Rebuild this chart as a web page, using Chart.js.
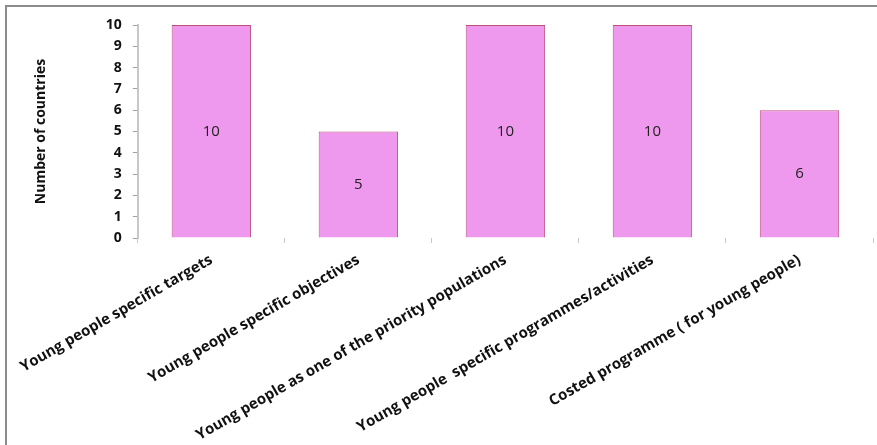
<!DOCTYPE html>
<html>
<head>
<meta charset="utf-8">
<script src="https://cdn.jsdelivr.net/npm/chart.js@4"></script>
<style>
  html, body { margin: 0; padding: 0; background: #fff; }
  #wrap { position: relative; width: 877px; height: 445px; }
  #frame { position: absolute; left: 5px; top: 5px; right: 0; bottom: 0;
           border-top: 2px solid #8c8c8c; border-left: 2px solid #8c8c8c; }
  #chart-box { position: absolute; left: 0; top: 0; width: 877px; height: 445px; }
</style>
</head>
<body>
<div id="wrap">
  <div id="frame"></div>
  <div id="chart-box"><canvas id="bar-chart"></canvas></div>
</div>
<script>
const categories = [
  'Young people specific targets',
  'Young people specific objectives',
  'Young people as one of the priority populations',
  'Young people  specific programmes/activities',
  'Costed programme ( for young people)'
]
const countryCounts = [10, 5, 10, 10, 6]
const yTicks = [0, 1, 2, 3, 4, 5, 6, 7, 8, 9, 10]

// writes each bar's value in the middle of the bar
const valueLabels = {
  id: 'valueLabels',
  afterDatasetsDraw(chart) {
    const ctx = chart.ctx
    const meta = chart.getDatasetMeta(0)
    ctx.save()
    ctx.font = '15px "Open Sans"'
    ctx.fillStyle = '#222'
    ctx.textAlign = 'center'
    ctx.textBaseline = 'middle'
    meta.data.forEach(function(bar, i) {
      ctx.fillText(String(countryCounts[i]), bar.x, (bar.y + bar.base) / 2)
    })
    ctx.restore()
  }
}

var ctx = document.getElementById('bar-chart').getContext('2d')
var myChart = new Chart(ctx, {
  type: 'bar',
  data: {
    labels: categories,
    datasets: [{
      data: countryCounts,
      backgroundColor: '#ee99ee',
      borderColor: '#c0507a',
      borderWidth: 1,
      barPercentage: 0.9,
      categoryPercentage: 0.6
    }]
  },
  options: {
    responsive: true,
    maintainAspectRatio: false,
    animation: false,
    layout: { padding: { left: 20, top: 25, right: 4, bottom: 0 } },
    plugins: {
      legend: { display: false },
      tooltip: { enabled: false }
    },
    scales: {
      x: {
        afterFit(scale) { scale.height = 207 },
        grid: { display: true, drawOnChartArea: false, drawTicks: true, tickLength: 5, color: '#c8c8c8', offset: true },
        border: { display: false },
        ticks: {
          autoSkip: false,
          minRotation: 30,
          maxRotation: 30,
          padding: 8,
          color: '#111',
          font: { family: 'Open Sans', size: 15, weight: 'bold' }
        }
      },
      y: {
        min: 0,
        max: 10,
        afterBuildTicks(scale) {
          scale.ticks = yTicks.map(v => ({ value: v }))
        },
        afterFit(scale) { scale.width = 117 },
        grid: { display: true, drawOnChartArea: false, drawTicks: true, tickLength: 5, color: '#a0a0a0' },
        border: { display: true, color: '#c8c8c8', width: 2 },
        ticks: {
          padding: 11,
          color: '#111',
          font: { family: 'Open Sans', size: 14, weight: 'bold' }
        },
        title: {
          display: true,
          text: 'Number of countries',
          color: '#111',
          padding: { top: 12, bottom: 10 },
          font: { family: 'Open Sans', size: 14, weight: 'bold' }
        }
      }
    }
  },
  plugins: [valueLabels]
})
</script>
</body>
</html>
